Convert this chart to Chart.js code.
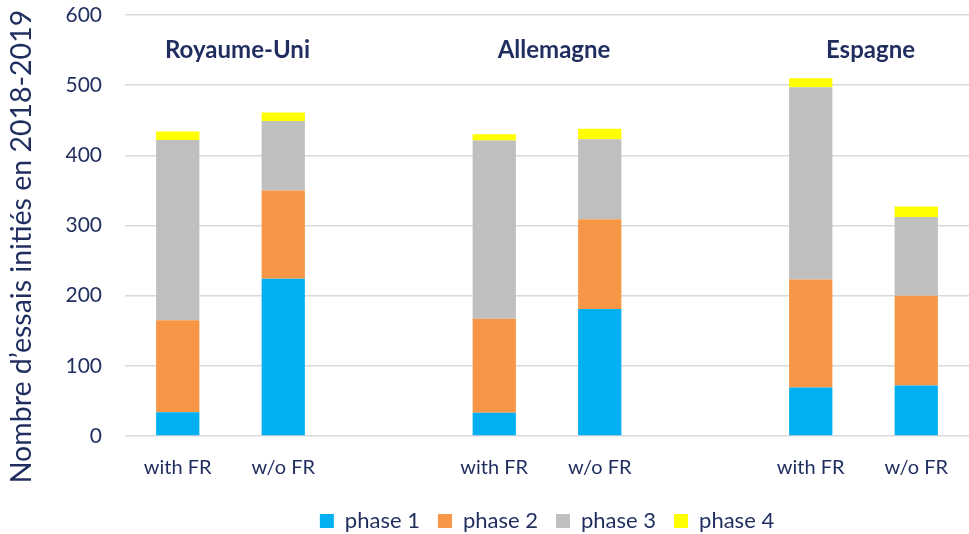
<!DOCTYPE html>
<html>
<head>
<meta charset="utf-8">
<script src="https://cdn.jsdelivr.net/npm/chart.js@4/dist/chart.umd.min.js"></script>
<style>
html,body{margin:0;padding:0;background:#fff;}
#wrap{width:969px;height:534px;position:relative;}
</style>
</head>
<body>
<div id="wrap"><canvas id="c" width="969" height="534"></canvas></div>
<script>
const categories = ['with FR', 'w/o FR', '', 'with FR', 'w/o FR', '', 'with FR', 'w/o FR'];
const groupNames = ['Royaume-Uni', 'Allemagne', 'Espagne'];
const phase1 = [34, 224, null, 33, 181, null, 69, 72];
const phase2 = [131, 126, null, 134, 128, null, 154, 128];
const phase3 = [257, 99, null, 254, 114, null, 274, 112];
const phase4 = [12, 12, null, 9, 15, null, 13, 15];
const yTicks = [0, 100, 200, 300, 400, 500, 600];
const yTitle = 'Nombre d\u2019essais initiés en 2018-2019';

const navy = '#1F2D5F';
const FONT = 'Lato, "Open Sans", sans-serif';

const groupLabels = {
  id: 'groupLabels',
  afterDatasetsDraw(chart) {
    const {ctx, scales:{x, y}, chartArea} = chart;
    ctx.save();
    ctx.font = 'bold 24px ' + FONT;
    ctx.fillStyle = navy;
    ctx.textAlign = 'center';
    ctx.textBaseline = 'middle';
    groupNames.forEach((g, i) => {
      const a = x.getPixelForValue(i * 3), b = x.getPixelForValue(i * 3 + 1);
      ctx.fillText(g, (a + b) / 2 + 7, y.getPixelForValue(550));
    });
    // y axis title
    ctx.font = '28.5px ' + FONT;
    ctx.translate(22, (chartArea.top + chartArea.bottom) / 2 + 21);
    ctx.rotate(-Math.PI / 2);
    ctx.fillText(yTitle, 0, 0);
    ctx.restore();
  }
};

const mk = (label, data, color) => ({label, data, backgroundColor: color, borderWidth: 0, barPercentage: 0.82, categoryPercentage: 0.5});

new Chart(document.getElementById('c'), {
  type: 'bar',
  data: {
    labels: categories,
    datasets: [
      mk('phase 1', phase1, '#00B0F0'),
      mk('phase 2', phase2, '#F79646'),
      mk('phase 3', phase3, '#BFBFBF'),
      mk('phase 4', phase4, '#FFFF00')
    ]
  },
  options: {
    responsive: false,
    animation: false,
    layout: {padding: {top: 15, right: 0, left: 0, bottom: -8}},
    plugins: {
      legend: {
        position: 'bottom',
        fullSize: false,
        labels: {boxWidth: 14, boxHeight: 14, color: navy, font: {size: 22, family: FONT}, padding: 18}
      },
      tooltip: {enabled: false}
    },
    scales: {
      x: {
        stacked: true,
        grid: {display: false},
        border: {display: false},
        ticks: {color: navy, font: {size: 20, family: FONT}, padding: 12, maxRotation: 0, autoSkip: false}
      },
      y: {
        stacked: true,
        min: yTicks[0],
        max: yTicks[yTicks.length - 1],
        afterBuildTicks(axis) { axis.ticks = yTicks.map(v => ({value: v})); },
        afterFit(axis) { axis.width = 125; axis.paddingTop = 0; axis.paddingBottom = 0; },
        grid: {color: '#D9D9D9', lineWidth: 1.5, drawTicks: false},
        border: {display: false},
        ticks: {color: navy, font: {size: 21, family: FONT}, padding: 23}
      }
    }
  },
  plugins: [groupLabels]
});
</script>
</body>
</html>
